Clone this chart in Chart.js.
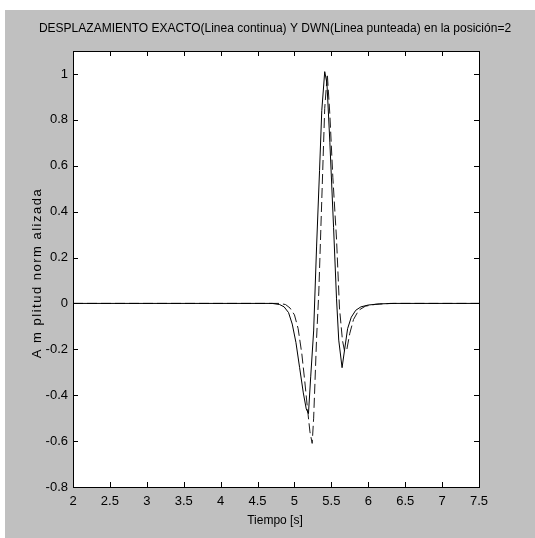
<!DOCTYPE html>
<html>
<head>
<meta charset="utf-8">
<script src="https://cdn.jsdelivr.net/npm/chart.js@4/dist/chart.umd.min.js"></script>
<style>
  html, body { margin: 0; padding: 0; background: #fff; }
  #wrap { width: 535px; height: 538px; }
</style>
</head>
<body>
<div id="wrap"><canvas id="chart" width="535" height="538"></canvas></div>
<script>
// exact displacement (solid line)
const timeExact = [2, 4.70, 4.80, 4.86, 4.92, 4.97, 5.02, 5.07, 5.12, 5.16, 5.19, 5.22, 5.26, 5.30, 5.34, 5.37, 5.41, 5.44, 5.48, 5.53, 5.57, 5.60, 5.645, 5.68, 5.72, 5.77, 5.83, 5.90, 6.00, 6.15, 6.35, 7.5];
const exactAmp  = [0, 0, -0.005, -0.015, -0.04, -0.09, -0.17, -0.28, -0.39, -0.46, -0.48, -0.32, -0.12, 0.25, 0.58, 0.84, 1.01, 0.96, 0.70, 0.33, 0.02, -0.16, -0.28, -0.20, -0.11, -0.06, -0.03, -0.015, -0.007, -0.002, 0, 0];

// DWN (dashed line)
const timeDwn = [2, 4.80, 4.88, 4.94, 5.00, 5.05, 5.10, 5.14, 5.18, 5.21, 5.24, 5.26, 5.30, 5.33, 5.37, 5.41, 5.445, 5.48, 5.52, 5.57, 5.61, 5.65, 5.68, 5.71, 5.75, 5.80, 5.87, 5.96, 6.10, 6.30, 7.5];
const dwnAmp  = [0, 0, -0.005, -0.02, -0.05, -0.11, -0.22, -0.34, -0.47, -0.56, -0.61, -0.50, -0.15, 0.05, 0.45, 0.85, 1.0, 0.82, 0.55, 0.28, -0.02, -0.16, -0.21, -0.20, -0.13, -0.07, -0.03, -0.012, -0.004, 0, 0];

const xTicks = [2, 2.5, 3, 3.5, 4, 4.5, 5, 5.5, 6, 6.5, 7, 7.5];
const yTicks = [-0.8, -0.6, -0.4, -0.2, 0, 0.2, 0.4, 0.6, 0.8, 1];

const titleText = 'DESPLAZAMIENTO EXACTO(Linea continua) Y DWN(Linea punteada) en la posición=2';
const xTitle = 'Tiempo [s]';
const yTitle = 'A m plitud norm alizada';

const FONT = '"Liberation Sans", Arial, sans-serif';

function toPoints(xs, ys) {
  return xs.map((x, i) => ({ x: x, y: ys[i] }));
}

function fmt(v) {
  return String(Math.round(v * 10) / 10);
}

// matlab-like figure: gray frame, boxed axes, ticks pointing inwards
const matlabFrame = {
  id: 'matlabFrame',
  beforeDraw(chart) {
    const ctx = chart.ctx, a = chart.chartArea;
    ctx.save();
    ctx.fillStyle = '#ffffff';
    ctx.fillRect(0, 0, chart.width, chart.height);
    ctx.fillStyle = '#c0c0c0';
    ctx.fillRect(5, 10, chart.width - 5, chart.height - 10);
    ctx.fillStyle = '#ffffff';
    ctx.fillRect(a.left, a.top, a.right - a.left, a.bottom - a.top);
    ctx.restore();
  },
  afterDraw(chart) {
    const ctx = chart.ctx, a = chart.chartArea;
    const xs = chart.scales.x, ys = chart.scales.y;
    const len = 5;
    ctx.save();
    ctx.strokeStyle = '#000';
    ctx.lineWidth = 1;
    ctx.beginPath();
    xTicks.forEach(v => {
      const px = Math.round(xs.getPixelForValue(v)) + 0.5;
      ctx.moveTo(px, a.bottom); ctx.lineTo(px, a.bottom - len);
      ctx.moveTo(px, a.top); ctx.lineTo(px, a.top + len);
    });
    yTicks.forEach(v => {
      const py = Math.round(ys.getPixelForValue(v)) + 0.5;
      ctx.moveTo(a.left, py); ctx.lineTo(a.left + len, py);
      ctx.moveTo(a.right, py); ctx.lineTo(a.right - len, py);
    });
    ctx.stroke();
    ctx.strokeRect(Math.round(a.left) + 0.5, Math.round(a.top) + 0.5,
                   Math.round(a.right - a.left), Math.round(a.bottom - a.top));

    ctx.fillStyle = '#000';
    ctx.textAlign = 'center';
    ctx.textBaseline = 'middle';
    ctx.font = '12px ' + FONT;
    ctx.fillText(titleText, 275, 29);
    ctx.fillText(xTitle, 275, 521);

    ctx.translate(37, 273);
    ctx.rotate(-Math.PI / 2);
    ctx.font = '13px ' + FONT;
    ctx.letterSpacing = '1.5px';
    ctx.fillText(yTitle, 0, 0);
    ctx.restore();
  }
};

new Chart(document.getElementById('chart'), {
  type: 'line',
  data: {
    datasets: [
      {
        label: 'Exacto',
        data: toPoints(timeExact, exactAmp),
        borderColor: '#000000',
        borderWidth: 1,
        pointRadius: 0
      },
      {
        label: 'DWN',
        data: toPoints(timeDwn, dwnAmp),
        borderColor: '#1a1a1a',
        borderWidth: 1,
        borderDash: [10, 4],
        pointRadius: 0
      }
    ]
  },
  options: {
    responsive: false,
    animation: false,
    events: [],
    layout: { padding: { left: 0, right: 56, top: 51, bottom: 0 } },
    plugins: {
      legend: { display: false },
      tooltip: { enabled: false },
      title: { display: false }
    },
    scales: {
      x: {
        type: 'linear',
        min: 2,
        max: 7.5,
        grid: { display: false, drawTicks: false },
        border: { display: false },
        afterBuildTicks: s => { s.ticks = xTicks.map(v => ({ value: v })); },
        afterFit: s => { s.height = 51; },
        ticks: {
          padding: 7,
          maxRotation: 0,
          autoSkip: false,
          color: '#000',
          font: { family: FONT, size: 13 },
          callback: v => fmt(v)
        }
      },
      y: {
        type: 'linear',
        min: -0.8,
        max: 1.1,
        grid: { display: false, drawTicks: false },
        border: { display: false },
        afterBuildTicks: s => { s.ticks = yTicks.map(v => ({ value: v })); },
        afterFit: s => { s.width = 73; },
        ticks: {
          padding: 5,
          autoSkip: false,
          color: '#000',
          font: { family: FONT, size: 13 },
          callback: v => fmt(v)
        }
      }
    }
  },
  plugins: [matlabFrame]
});
</script>
</body>
</html>
